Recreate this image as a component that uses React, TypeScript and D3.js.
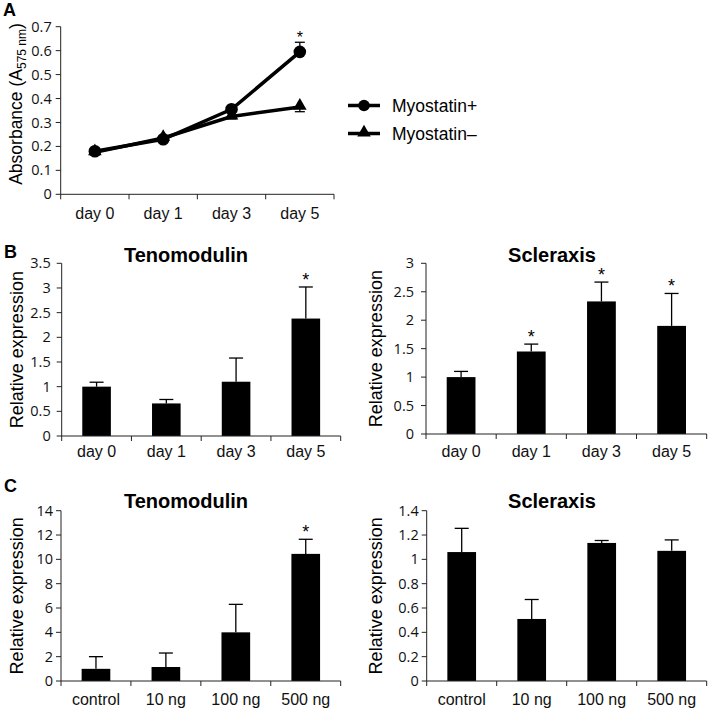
import React from "react";
import * as d3 from "d3";

// ---------- data ----------
const dayCats = ["day 0", "day 1", "day 3", "day 5"];
const doseCats = ["control", "10 ng", "100 ng", "500 ng"];

const absPlus = [0.18, 0.23, 0.355, 0.595];
const absPlusErr = [0.01, 0.01, 0.01, 0.04];
const absMinus = [0.175, 0.235, 0.325, 0.365];
const absMinusErr = [0.01, 0.01, 0.01, 0.02];
const absSig = [false, false, false, true];
const absTicks = [0, 0.1, 0.2, 0.3, 0.4, 0.5, 0.6, 0.7];

const tnmdDay = [1.0, 0.66, 1.1, 2.38];
const tnmdDayErr = [0.09, 0.08, 0.48, 0.64];
const tnmdDaySig = [false, false, false, true];
const tnmdDayTicks = [0, 0.5, 1, 1.5, 2, 2.5, 3, 3.5];

const scxDay = [1.0, 1.45, 2.33, 1.9];
const scxDayErr = [0.1, 0.13, 0.34, 0.57];
const scxDaySig = [false, true, true, true];
const scxDayTicks = [0, 0.5, 1, 1.5, 2, 2.5, 3];

const tnmdDose = [1.0, 1.15, 4.0, 10.45];
const tnmdDoseErr = [1.0, 1.15, 2.3, 1.2];
const tnmdDoseSig = [false, false, false, true];
const tnmdDoseTicks = [0, 2, 4, 6, 8, 10, 12, 14];

const scxDose = [1.06, 0.51, 1.135, 1.07];
const scxDoseErr = [0.195, 0.16, 0.02, 0.09];
const scxDoseSig = [false, false, false, false];
const scxDoseTicks = [0, 0.2, 0.4, 0.6, 0.8, 1, 1.2, 1.4];

const FONT = "'Liberation Sans', Arial, Helvetica, sans-serif";
const TICKFONT = "'Open Sans', 'Liberation Sans', sans-serif";
const fmt = d3.format(".1~f");

type BarProps = {
  x0: number; x1: number; yTop: number; yBottom: number;
  ticks: number[]; cats: string[]; values: number[]; errs: number[]; sig: boolean[];
  title: string; titleX: number; titleY: number; labelX: number; catY: number; gap?: number;
};

function YAxis({ x, y, ticks, gap = 9 }: { x: number; y: d3.ScaleLinear<number, number>; ticks: number[]; gap?: number }) {
  return (
    <g>
      <line x1={x} x2={x} y1={y(ticks[ticks.length - 1])} y2={y(0)} stroke="#222" strokeWidth={1} />
      {ticks.map((t) => (
        <g key={t}>
          <line x1={x - 5} x2={x} y1={y(t)} y2={y(t)} stroke="#222" strokeWidth={1} />
          <text x={x - gap} y={y(t)} dy="0.35em" textAnchor="end" fontSize={14.5} fontFamily={TICKFONT} fill="#111">
            {fmt(t)}
          </text>
        </g>
      ))}
    </g>
  );
}

function XAxis({ xs, y, catY }: { xs: d3.ScaleBand<string>; y: number; catY: number }) {
  const [r0, r1] = xs.range();
  const n = xs.domain().length;
  const bounds = d3.range(n + 1).map((i) => r0 + ((r1 - r0) * i) / n);
  return (
    <g>
      <line x1={r0} x2={r1} y1={y} y2={y} stroke="#222" strokeWidth={1} />
      {bounds.map((b, i) => (
        <line key={i} x1={b} x2={b} y1={y} y2={y + 5} stroke="#222" strokeWidth={1} />
      ))}
      {xs.domain().map((c) => (
        <text key={c} x={(xs(c) as number) + xs.bandwidth() / 2} y={catY} textAnchor="middle" fontSize={16} fontFamily={FONT} fill="#111">
          {c}
        </text>
      ))}
    </g>
  );
}

function BarPanel(p: BarProps) {
  const y = d3.scaleLinear().domain([0, p.ticks[p.ticks.length - 1]]).range([p.yBottom, p.yTop]);
  const xs = d3.scaleBand<string>().domain(p.cats).range([p.x0, p.x1]).paddingInner(0.59).paddingOuter(0.295);
  const cap = 7;
  return (
    <g>
      <text x={p.titleX} y={p.titleY} textAnchor="middle" fontSize={20} fontWeight="bold" fontFamily={FONT}>
        {p.title}
      </text>
      <text transform={`translate(${p.labelX},${(p.yTop + p.yBottom) / 2}) rotate(-90)`} textAnchor="middle" fontSize={18} fontFamily={FONT}>
        Relative expression
      </text>
      {p.cats.map((c, i) => {
        const cx = (xs(c) as number) + xs.bandwidth() / 2;
        const top = y(p.values[i] + p.errs[i]);
        return (
          <g key={c}>
            <rect x={xs(c)} y={y(p.values[i])} width={xs.bandwidth()} height={y(0) - y(p.values[i])} fill="#000" />
            <line x1={cx} x2={cx} y1={y(p.values[i])} y2={top} stroke="#000" strokeWidth={1.3} />
            <line x1={cx - cap} x2={cx + cap} y1={top} y2={top} stroke="#000" strokeWidth={1.3} />
            {p.sig[i] && (
              <text x={cx} y={top - 1} textAnchor="middle" fontSize={18} fontFamily={FONT}>*</text>
            )}
          </g>
        );
      })}
      <YAxis x={p.x0} y={y} ticks={p.ticks} gap={p.gap} />
      <XAxis xs={xs} y={p.yBottom} catY={p.catY} />
    </g>
  );
}

function LinePanel() {
  const x0 = 60.7, x1 = 334, yTop = 26.7, yBottom = 194.3;
  const y = d3.scaleLinear().domain([0, 0.7]).range([yBottom, yTop]);
  const xs = d3.scaleBand<string>().domain(dayCats).range([x0, x1]);
  const px = (c: string) => (xs(c) as number) + xs.bandwidth() / 2;
  const line = d3.line<number>().x((_, i) => px(dayCats[i])).y((d) => y(d));
  const tri = d3.symbol().type(d3.symbolTriangle).size(80)();
  const cap = 5;
  return (
    <g>
      <text x={3} y={16} fontSize={18} fontWeight="bold" fontFamily={FONT}>A</text>
      <text transform={`translate(22,${104}) rotate(-90)`} textAnchor="middle" fontSize={17.5} fontFamily={FONT}>
        Absorbance (A<tspan dy={4} fontSize={12}>575 nm</tspan><tspan dy={-4}>)</tspan>
      </text>
      {dayCats.map((c, i) => (
        <g key={"e" + c}>
          <line x1={px(c)} x2={px(c)} y1={y(absPlus[i])} y2={y(absPlus[i] + absPlusErr[i])} stroke="#000" strokeWidth={1.3} />
          <line x1={px(c) - cap} x2={px(c) + cap} y1={y(absPlus[i] + absPlusErr[i])} y2={y(absPlus[i] + absPlusErr[i])} stroke="#000" strokeWidth={1.3} />
          <line x1={px(c)} x2={px(c)} y1={y(absMinus[i])} y2={y(absMinus[i] - absMinusErr[i])} stroke="#000" strokeWidth={1.3} />
          <line x1={px(c) - cap} x2={px(c) + cap} y1={y(absMinus[i] - absMinusErr[i])} y2={y(absMinus[i] - absMinusErr[i])} stroke="#000" strokeWidth={1.3} />
          {absSig[i] && (
            <text x={px(c)} y={y(absPlus[i] + absPlusErr[i]) + 1} textAnchor="middle" fontSize={16} fontFamily={FONT}>*</text>
          )}
        </g>
      ))}
      <path d={line(absMinus) || ""} fill="none" stroke="#000" strokeWidth={3.5} />
      <path d={line(absPlus) || ""} fill="none" stroke="#000" strokeWidth={3.5} />
      {dayCats.map((c, i) => (
        <g key={"m" + c}>
          <path d={tri || ""} transform={`translate(${px(c)},${y(absMinus[i]) - 1})`} fill="#000" />
          <circle cx={px(c)} cy={y(absPlus[i])} r={6.3} fill="#000" />
        </g>
      ))}
      <YAxis x={x0} y={y} ticks={absTicks} />
      <XAxis xs={xs} y={yBottom} catY={219} />
      <g>
        <line x1={348} x2={380} y1={105.5} y2={105.5} stroke="#000" strokeWidth={3.5} />
        <circle cx={364} cy={105.5} r={5.8} fill="#000" />
        <text x={392} y={105.5} dy="0.35em" fontSize={17.5} fontFamily={FONT}>Myostatin+</text>
        <line x1={348} x2={380} y1={133.5} y2={133.5} stroke="#000" strokeWidth={3.5} />
        <path d={tri || ""} transform={`translate(364,${132.5})`} fill="#000" />
        <text x={392} y={133.5} dy="0.35em" fontSize={17.5} fontFamily={FONT}>Myostatin–</text>
      </g>
    </g>
  );
}

export default function App() {
  return (
    <svg width={709} height={710} style={{ position: "absolute", left: 0, top: 0, background: "#fff" }}>
      <rect width={709} height={710} fill="#fff" />
      <LinePanel />
      <text x={4} y={258} fontSize={18} fontWeight="bold" fontFamily={FONT}>B</text>
      <BarPanel x0={61.7} x1={340.7} yTop={263.3} yBottom={436} ticks={tnmdDayTicks} cats={dayCats}
        values={tnmdDay} errs={tnmdDayErr} sig={tnmdDaySig} title="Tenomodulin" titleX={186} titleY={262} labelX={23} catY={457} gap={11} />
      <BarPanel x0={426} x1={706.7} yTop={263.3} yBottom={434} ticks={scxDayTicks} cats={dayCats}
        values={scxDay} errs={scxDayErr} sig={scxDaySig} title="Scleraxis" titleX={552} titleY={262} labelX={382} catY={457} gap={12} />
      <text x={4} y={492} fontSize={18} fontWeight="bold" fontFamily={FONT}>C</text>
      <BarPanel x0={61} x1={340.7} yTop={510.7} yBottom={681} ticks={tnmdDoseTicks} cats={doseCats}
        values={tnmdDose} errs={tnmdDoseErr} sig={tnmdDoseSig} title="Tenomodulin" titleX={186} titleY={508} labelX={23} catY={705} gap={8} />
      <BarPanel x0={426.7} x1={706.7} yTop={510.7} yBottom={681} ticks={scxDoseTicks} cats={doseCats}
        values={scxDose} errs={scxDoseErr} sig={scxDoseSig} title="Scleraxis" titleX={552} titleY={508} labelX={382} catY={705} gap={8} />
    </svg>
  );
}
